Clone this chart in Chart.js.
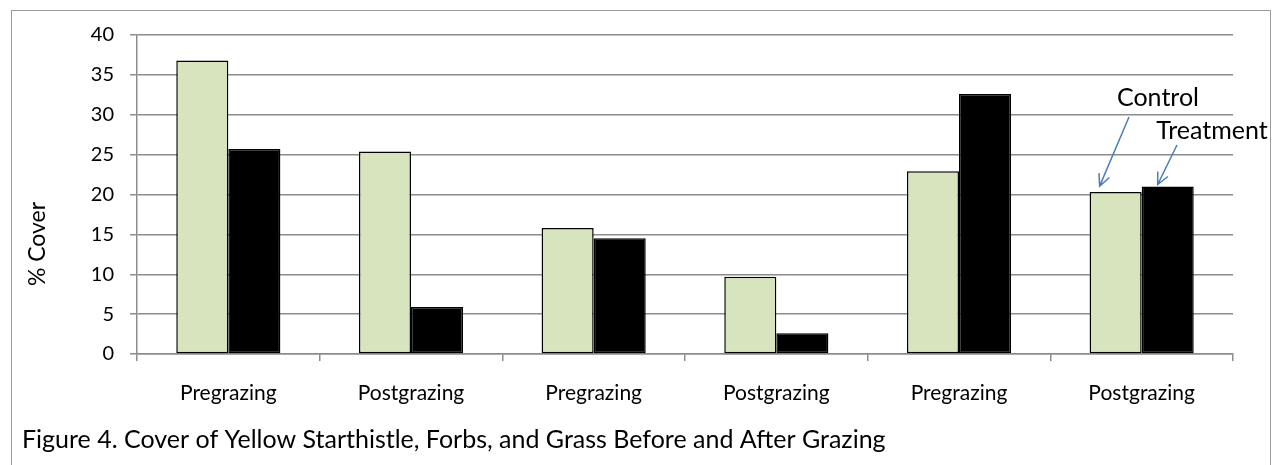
<!DOCTYPE html>
<html>
<head>
<meta charset="utf-8">
<script src="https://cdn.jsdelivr.net/npm/chart.js@4"></script>
<style>
  body { margin: 0; background: #fff; }
  #wrap { width: 1273px; height: 465px; position: relative; }
</style>
</head>
<body>
<div id="wrap"><canvas id="myChart" width="1273" height="465"></canvas></div>
<script>
// values
const categories = ['Pregrazing', 'Postgrazing', 'Pregrazing', 'Postgrazing', 'Pregrazing', 'Postgrazing'];
const control = [36.8, 25.4, 15.8, 9.7, 22.9, 20.3];
const treatment = [25.7, 5.9, 14.5, 2.6, 32.6, 21.0];
const yTicks = [0, 5, 10, 15, 20, 25, 30, 35, 40];
const yTitle = '% Cover';
const caption = 'Figure 4. Cover of Yellow Starthistle, Forbs, and Grass Before and After Grazing';

const FONT = 'Lato, Calibri, sans-serif';
const gridGrey = '#8c8c8c';
const arrowBlue = '#4a7ebb';

function drawArrow(ctx, x1, y1, x2, y2) {
  const ang = Math.atan2(y2 - y1, x2 - x1);
  const head = 13;
  ctx.beginPath();
  ctx.moveTo(x1, y1);
  ctx.lineTo(x2, y2);
  ctx.moveTo(x2 - head * Math.cos(ang - 0.45), y2 - head * Math.sin(ang - 0.45));
  ctx.lineTo(x2, y2);
  ctx.lineTo(x2 - head * Math.cos(ang + 0.45), y2 - head * Math.sin(ang + 0.45));
  ctx.stroke();
}

const extras = {
  id: 'extras',
  afterDraw(chart) {
    const ctx = chart.ctx;
    const ys = chart.scales.y;
    ctx.save();
    // frame around the whole figure
    ctx.strokeStyle = '#9a9a9a';
    ctx.lineWidth = 1;
    ctx.strokeRect(11.5, 10.5, 1259, 470);

    // y title
    ctx.fillStyle = '#000';
    ctx.font = '23px ' + FONT;
    ctx.textAlign = 'center';
    ctx.textBaseline = 'middle';
    ctx.translate(38, 244);
    ctx.rotate(-Math.PI / 2);
    ctx.fillText(yTitle, 0, 0);
    ctx.restore();

    ctx.save();
    // caption
    ctx.fillStyle = '#000';
    ctx.font = '25px ' + FONT;
    ctx.textAlign = 'left';
    ctx.textBaseline = 'middle';
    ctx.fillText(caption, 22, 440);

    // Control / Treatment callouts on the last group
    const last = categories.length - 1;
    const cBar = chart.getDatasetMeta(0).data[last];
    const tBar = chart.getDatasetMeta(1).data[last];
    ctx.font = '25px ' + FONT;
    ctx.textAlign = 'center';
    ctx.fillText('Control', 1158, 98);
    ctx.fillText('Treatment', 1212, 131);
    ctx.strokeStyle = arrowBlue;
    ctx.lineWidth = 1.5;
    drawArrow(ctx, 1129, 117, cBar.x - 16, ys.getPixelForValue(control[last]) - 6);
    drawArrow(ctx, 1177, 145, tBar.x - 10, ys.getPixelForValue(treatment[last]) - 2);
    ctx.restore();
  }
};

new Chart(document.getElementById('myChart'), {
  type: 'bar',
  data: {
    labels: categories,
    datasets: [
      {
        label: 'Control',
        data: control,
        backgroundColor: '#d7e4bd',
        borderColor: '#000',
        borderWidth: 1.5,
        borderSkipped: false
      },
      {
        label: 'Treatment',
        data: treatment,
        backgroundColor: '#000',
        borderColor: '#000',
        borderWidth: 1.5,
        borderSkipped: false
      }
    ]
  },
  options: {
    responsive: false,
    animation: false,
    events: [],
    layout: { padding: { left: 0, top: 35, right: 40, bottom: 0 } },
    categoryPercentage: 0.57,
    barPercentage: 1,
    plugins: {
      legend: { display: false },
      tooltip: { enabled: false }
    },
    scales: {
      x: {
        afterFit(s) { s.height = 111; },
        grid: {
          offset: true,
          drawOnChartArea: false,
          drawTicks: true,
          tickLength: 7,
          color: gridGrey,
          lineWidth: 1.5
        },
        border: { color: gridGrey, width: 1.5 },
        ticks: {
          color: '#000',
          font: { family: FONT, size: 21 },
          padding: 20,
          maxRotation: 0
        }
      },
      y: {
        min: 0,
        max: 40,
        afterFit(s) { s.width = 137; },
        afterBuildTicks(s) { s.ticks = yTicks.map(v => ({ value: v })); },
        grid: {
          color: gridGrey,
          lineWidth: 1.5,
          tickLength: 7
        },
        border: { color: gridGrey, width: 1.5 },
        ticks: {
          color: '#000',
          font: { family: FONT, size: 20 },
          padding: 16
        }
      }
    }
  },
  plugins: [extras]
});
</script>
</body>
</html>
